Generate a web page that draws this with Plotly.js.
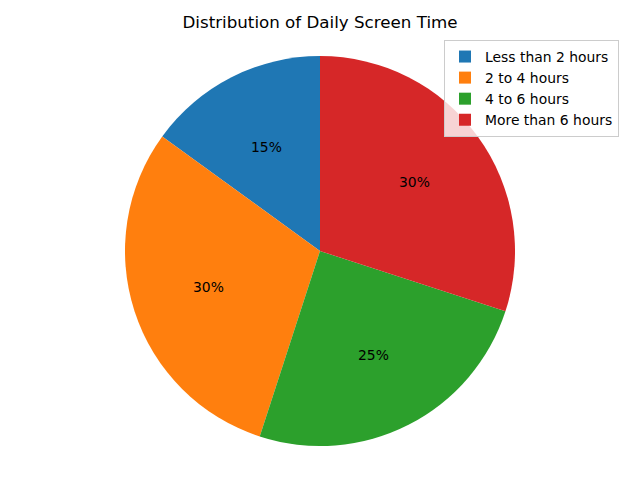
<!DOCTYPE html>
<html>
<head>
<meta charset="utf-8">
<script src="https://cdn.plot.ly/plotly-3.0.1.min.js"></script>
<style>html,body{margin:0;padding:0;background:#fff;}#chart{width:640px;height:480px;}</style>
</head>
<body>
<div id="chart"></div>
<script>
const categories = ["Less than 2 hours", "2 to 4 hours", "4 to 6 hours", "More than 6 hours"];
const shares = [15, 30, 25, 30];
const colors = ["#1f77b4", "#ff7f0e", "#2ca02c", "#d62728"];

const W = 640, H = 480;
const cx = 320, cy = 251, R = 195;
const pctDistance = 0.6;
const total = shares.reduce((a, b) => a + b, 0);

const trace = {
  type: "pie",
  labels: categories,
  values: shares,
  sort: false,
  direction: "counterclockwise",
  rotation: -360 * shares[0] / total,
  marker: {colors: colors, line: {width: 0}},
  textinfo: "none",
  hoverinfo: "none",
  domain: {x: [(cx - R) / W, (cx + R) / W], y: [(H - cy - R) / H, (H - cy + R) / H]}
};

// percentage labels at 0.6 radius along each slice's mid-angle (counterclockwise from 12 o'clock)
const annotations = [];
let cum = 0;
shares.forEach((v) => {
  const mid = 90 + 360 * (cum + v / 2) / total;
  cum += v;
  const a = mid * Math.PI / 180;
  annotations.push({
    xref: "paper", yref: "paper",
    x: (cx + pctDistance * R * Math.cos(a)) / W,
    y: (H - cy + pctDistance * R * Math.sin(a)) / H,
    xanchor: "center", yanchor: "middle",
    text: Math.round(100 * v / total) + "%",
    showarrow: false,
    font: {family: "DejaVu Sans", size: 13.9, color: "#000"}
  });
});

const layout = {
  width: W, height: H,
  margin: {l: 0, r: 0, t: 0, b: 0},
  paper_bgcolor: "#fff",
  font: {family: "DejaVu Sans", color: "#000"},
  title: {text: "Distribution of Daily Screen Time", x: 0.5, xanchor: "center", y: 1 - 22 / H, yanchor: "middle",
          font: {family: "DejaVu Sans", size: 16.7, color: "#000"}},
  annotations: annotations,
  showlegend: true,
  legend: {x: 444 / W, y: 1 - 40 / H, xanchor: "left", yanchor: "top",
           bgcolor: "rgba(255,255,255,0.8)", bordercolor: "#cccccc", borderwidth: 1,
           font: {family: "DejaVu Sans", size: 13.9, color: "#000"}, tracegroupgap: 0}
};

Plotly.newPlot("chart", [trace], layout, {displayModeBar: false, staticPlot: true});
</script>
</body>
</html>
